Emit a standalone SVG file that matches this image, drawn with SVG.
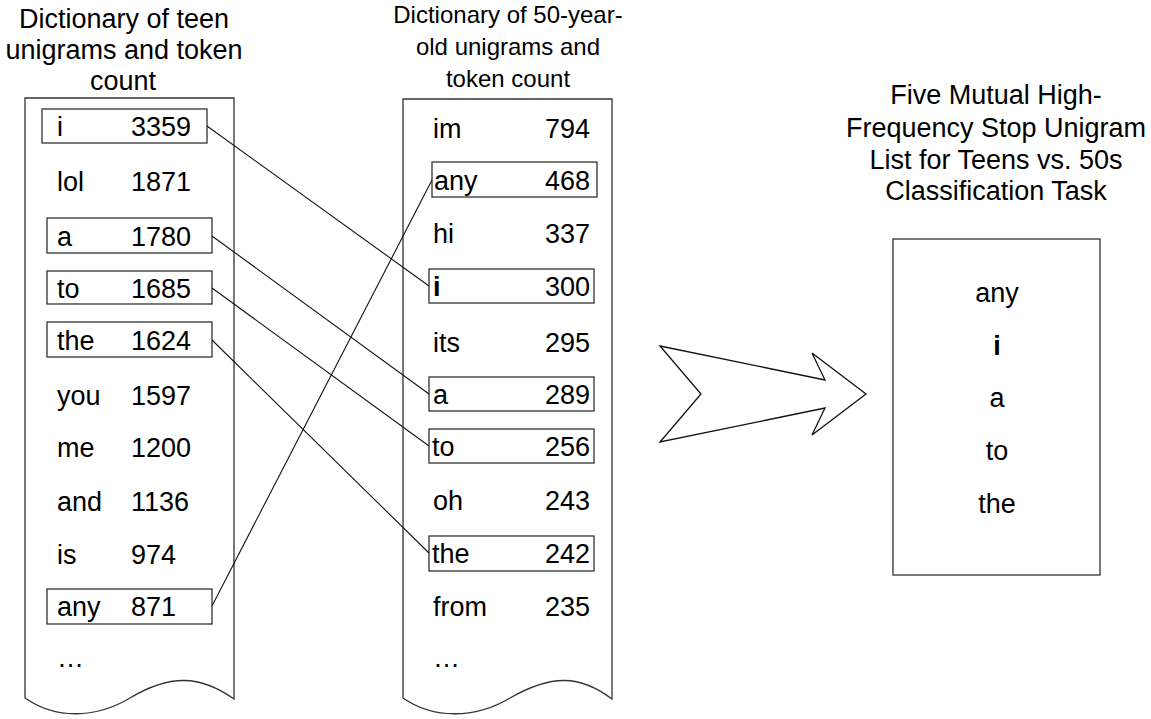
<svg xmlns="http://www.w3.org/2000/svg" width="1151" height="719" viewBox="0 0 1151 719">
<style>
text{font-family:"Liberation Sans",Arial,sans-serif;font-size:27px;fill:#000}
.h{text-anchor:middle}
.m{font-size:24px}
.n{text-anchor:end}
.doc{fill:#fff;stroke:#333;stroke-width:1.3}
.box{fill:none;stroke:#333;stroke-width:1.3}
.c{stroke:#111;stroke-width:1.1;fill:none}
.b{font-weight:bold}
</style>
<rect width="1151" height="719" fill="#fff"/>
<g id="teen-dict">
<text class="h" x="124" y="28">Dictionary of teen</text>
<text class="h" x="124" y="59">unigrams and token</text>
<text class="h" x="123" y="90">count</text>
<path class="doc" d="M25,98 H234 V699 C200,675 170,674 130,698 C95,719 55,719 25,698 Z"/>
<rect class="box" x="42" y="109" width="165" height="34"/>
<rect class="box" x="47" y="218" width="165" height="35"/>
<rect class="box" x="47" y="271" width="165" height="33"/>
<rect class="box" x="47" y="322" width="165" height="35"/>
<rect class="box" x="47" y="589" width="165" height="35"/>
<text x="57" y="136">i</text><text x="131" y="136">3359</text>
<text x="57" y="191">lol</text><text x="131" y="191">1871</text>
<text x="57" y="246">a</text><text x="131" y="246">1780</text>
<text x="57" y="298">to</text><text x="131" y="298">1685</text>
<text x="57" y="350">the</text><text x="131" y="350">1624</text>
<text x="57" y="405">you</text><text x="131" y="405">1597</text>
<text x="57" y="457">me</text><text x="131" y="457">1200</text>
<text x="57" y="511">and</text><text x="131" y="511">1136</text>
<text x="57" y="564">is</text><text x="131" y="564">974</text>
<text x="57" y="616">any</text><text x="131" y="616">871</text>
<text x="57" y="667">…</text>
</g>
<g id="fifty-dict">
<text class="h m" x="508" y="23">Dictionary of 50-year-</text>
<text class="h m" x="508" y="55">old unigrams and</text>
<text class="h m" x="508" y="87">token count</text>
<path class="doc" d="M403,99 H612 V699 C580,675 552,674 510,698 C475,719 433,719 403,698 Z"/>
<rect class="box" x="432" y="162" width="165" height="35"/>
<rect class="box" x="429" y="269" width="165" height="34"/>
<rect class="box" x="429" y="377" width="165" height="34"/>
<rect class="box" x="429" y="429" width="165" height="34"/>
<rect class="box" x="429" y="536" width="165" height="35"/>
<text x="433" y="138">im</text><text class="n" x="590" y="138">794</text>
<text x="434" y="190">any</text><text class="n" x="590" y="190">468</text>
<text x="433" y="243">hi</text><text class="n" x="590" y="243">337</text>
<text class="b" x="433" y="296">i</text><text class="n" x="590" y="296">300</text>
<text x="433" y="352">its</text><text class="n" x="590" y="352">295</text>
<text x="433" y="404">a</text><text class="n" x="590" y="404">289</text>
<text x="432" y="456">to</text><text class="n" x="590" y="456">256</text>
<text x="433" y="510">oh</text><text class="n" x="590" y="510">243</text>
<text x="432" y="563">the</text><text class="n" x="590" y="563">242</text>
<text x="433" y="616">from</text><text class="n" x="590" y="616">235</text>
<text x="433" y="667">…</text>
</g>
<g id="connectors">
<line class="c" x1="207" y1="126" x2="429" y2="286"/>
<line class="c" x1="212" y1="236" x2="429" y2="394"/>
<line class="c" x1="212" y1="288" x2="429" y2="446"/>
<line class="c" x1="212" y1="340" x2="429" y2="553"/>
<line class="c" x1="212" y1="606" x2="432" y2="180"/>
</g>
<g id="big-arrow">
<polygon points="660,346 825,380 812,353 866,394 812,435 825,408 660,442 701,394" fill="#fff" stroke="#111" stroke-width="1.3" stroke-linejoin="miter"/>
</g>
<g id="stop-list">
<text class="h" x="996" y="104">Five Mutual High-</text>
<text class="h" x="996" y="137">Frequency Stop Unigram</text>
<text class="h" x="996" y="169">List for Teens vs. 50s</text>
<text class="h" x="996" y="200">Classification Task</text>
<rect class="box" x="893" y="239" width="207" height="336" fill="#fff"/>
<text class="h" x="997" y="302">any</text>
<text class="h b" x="997" y="355">i</text>
<text class="h" x="997" y="407">a</text>
<text class="h" x="997" y="460">to</text>
<text class="h" x="997" y="513">the</text>
</g>
</svg>
